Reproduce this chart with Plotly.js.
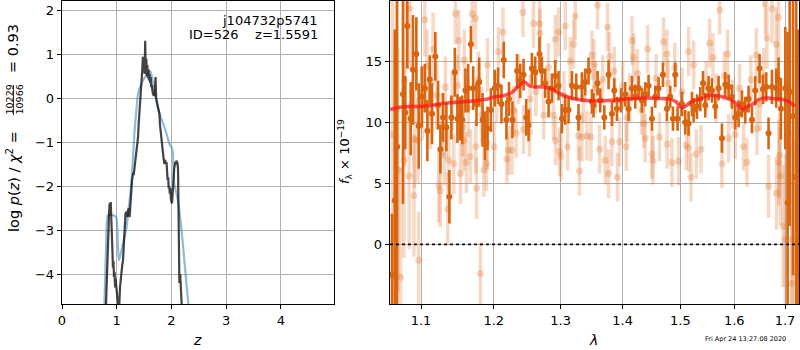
<!DOCTYPE html>
<html>
<head>
<meta charset="utf-8">
<script src="https://cdn.plot.ly/plotly-3.0.1.min.js"></script>
<style>html,body{margin:0;padding:0;background:#fff;}#chart{width:800px;height:350px;}</style>
</head>
<body>
<div id="chart"></div>
<script>
// ---------- Left panel: log p(z) ----------
const zBlue = [0.77,0.80,0.82,0.84,0.88,0.93,0.99,1.02,1.04,1.07,1.115,1.176,1.22,1.267,1.30,1.327,1.36,1.39,1.45,1.52,1.57,1.61,1.65,1.69,1.75,1.81,1.87,1.92,1.96,2.00,2.02,2.05,2.10,2.15,2.20,2.24,2.28,2.31,2.34];
const pBlue = [-4.9,-3.6,-2.8,-2.66,-2.64,-2.66,-2.7,-3.3,-3.68,-3.55,-3.3,-2.96,-2.5,-1.94,-1.3,-0.73,-0.25,0.1,0.33,0.48,0.56,0.62,0.45,0.18,-0.23,-0.45,-0.65,-0.85,-1.03,-1.12,-1.18,-1.94,-2.2,-2.62,-3.2,-3.75,-4.3,-4.68,-5.2];

const zDark = [0.79,0.81,0.83,0.85,0.86,0.87,0.88,0.89,0.90,0.91,0.92,0.93,0.94,0.95,0.96,0.97,0.98,0.99,1.00,1.02,1.04,1.06,1.085,1.10,1.115,1.13,1.145,1.16,1.176,1.19,1.206,1.22,1.236,1.25,1.267,1.28,1.30,1.31,1.327,1.34,1.35,1.37,1.39,1.40,1.42,1.43,1.44,1.455,1.467,1.478,1.49,1.50,1.51,1.52,1.53,1.54,1.55,1.56,1.57,1.58,1.59,1.60,1.61,1.62,1.63,1.64,1.66,1.68,1.70,1.71,1.72,1.74,1.76,1.78,1.79,1.80,1.81,1.82,1.84,1.85,1.86,1.87,1.88,1.90,1.91,1.92,1.93,1.94,1.95,1.96,1.97,1.98,1.99,2.01,2.02,2.03,2.04,2.05,2.07,2.08,2.09,2.11,2.12,2.13,2.145,2.16,2.175,2.19,2.21];
const pDark = [-5.2,-4.6,-3.9,-3.0,-2.6,-2.39,-2.45,-2.36,-2.6,-3.0,-3.4,-3.85,-3.7,-4.06,-3.95,-4.3,-4.1,-4.25,-4.4,-4.55,-4.9,-4.3,-3.9,-3.8,-3.68,-3.2,-2.92,-2.62,-2.58,-2.7,-2.55,-2.5,-2.7,-2.3,-2.1,-1.86,-1.7,-1.75,-1.55,-1.48,-1.25,-1.03,-0.88,-0.6,-0.27,-0.05,0.2,0.45,0.64,0.94,0.6,0.85,0.55,1.3,0.6,0.9,0.5,0.75,0.45,0.65,0.4,0.55,0.35,0.48,0.25,0.3,0.1,0.05,0.2,0.48,0.0,-0.1,-0.2,-0.35,-0.6,-0.75,-0.7,-0.95,-1.2,-1.3,-1.4,-1.5,-1.4,-1.48,-1.45,-1.6,-1.86,-1.8,-2.05,-2.0,-2.17,-2.05,-2.3,-2.39,-2.2,-1.95,-1.86,-1.6,-1.45,-1.5,-1.42,-1.48,-1.6,-3.07,-4.2,-4.0,-4.3,-4.68,-5.3];

// ---------- Right panel: spectrum ----------
const lamDark = [1.0625,1.0660,1.0690,1.0765,1.0795,1.0821,1.0865,1.0895,1.0939,1.0970,1.1010,1.1050,1.1084,1.1116,1.1146,1.1190,1.1227,1.1258,1.1294,1.1339,1.1380,1.1407,1.1454,1.1490,1.1523,1.1555,1.1600,1.1638,1.1676,1.1708,1.1755,1.1793,1.1840,1.1874,1.1911,1.1959,
 1.2014,1.2062,1.2111,1.2144,1.2183,1.2221,1.2271,1.2339,1.2386,1.2435,1.2475,1.2510,1.2560,1.2610,1.2675,1.2711,1.2762,1.2813,1.2865,1.2916,1.2967,1.3020,1.3071,1.3123,1.3176,1.3244,1.3280,1.3334,1.3387,1.3440,1.3495,
 1.3521,1.3586,1.3630,1.3696,1.3766,1.3822,1.3860,1.3905,1.3972,1.4043,1.4099,1.4157,1.4213,1.4269,1.4327,1.4384,1.4441,1.4499,1.4557,1.4614,1.4691,1.4761,1.4820,1.4868,1.4909,1.4950,1.5029,1.5088,1.5148,1.5210,
 1.5240,1.5302,1.5362,1.5412,1.5454,1.5515,1.5578,1.5640,1.5702,1.5765,1.5828,1.5891,1.5955,1.6019,1.6082,1.6147,1.6211,1.6275,1.6341,1.6406,1.6491,1.6558,1.6623,1.6669,1.6737,1.6822,1.6869,1.6917,1.7006,1.7053,1.7095,1.7165,1.7230,1.7265];
const fluxDark = [-2.5,3.6,8.0,12.3,10.8,17.9,10.3,14.3,15.6,9.7,12.1,12.8,9.3,13.5,10.7,15.4,11.4,7.8,10.4,9.6,3.9,10.4,14.1,10.3,10.3,10.2,12.6,12.8,16.4,12.8,11.5,13.3,10.2,8.9,9.5,11.0,
 12.8,13.0,11.5,15.1,10.2,11.9,10.2,14.2,13.4,13.9,10.4,9.75,14.4,14.1,15.6,14.2,13.2,11.7,12.8,13.8,13.0,10.3,11.0,11.0,13.0,12.9,10.4,12.9,13.3,14.2,11.7,
 11.4,13.2,11.8,10.4,13.9,10.7,12.6,11.1,11.8,12.3,11.1,12.8,12.1,12.8,11.8,12.3,13.0,10.3,12.1,12.8,13.9,11.1,12.1,10.3,13.9,10.3,11.5,10.0,9.9,11.5,
 11.0,11.3,11.9,13.2,11.4,12.8,12.6,11.3,12.8,8.7,13.1,12.9,12.1,10.4,10.7,11.5,11.0,11.9,10.2,12.6,14.4,12.7,12.9,9.1,12.9,12.8,13.5,11.1,12.8,3.4,12.5,10.5,5.5,-2.4];
const errDark = [5,14,13,9,3,3.5,3,4.5,3,3.5,2.5,2,2.5,2,2.5,2,2,2,2,2,2.2,1.8,2,2,1.8,2,1.8,2,1.5,1.8,1.8,2,2.2,2,1.8,1.8,
 1.5,1.5,1.6,1.5,1.6,1.4,1.5,1.4,1.4,1.3,1.5,1.3,1.3,1.3,1.4,1.2,1.2,1.3,1.2,1.3,1.2,1.2,1.2,1.1,1.2,1.1,1.1,1.2,1.1,1.1,1.0,
 1.0,1.0,1.0,1.0,1.2,1.0,1.0,1.0,1.0,1.0,1.0,1.0,1.0,1.0,1.0,1.0,0.9,1.0,0.9,0.9,1.0,1.0,0.9,1.0,1.0,1.0,1.0,1.0,1.0,1.0,
 1.0,1.0,1.0,1.0,1.0,1.0,1.0,1.0,1.0,1.2,1.0,1.0,1.0,1.0,1.1,1.1,1.1,1.1,1.1,1.2,1.2,1.2,1.2,1.3,1.4,1.6,1.8,2.5,5,14,11,13,18,20];

const lamLight = [1.0630,1.0680,1.0700,1.0735,1.0778,1.0787,1.0845,1.0852,1.0908,1.0915,1.0960,1.0970,1.1020,1.1050,1.1080,1.1120,1.1160,1.1210,1.1236,1.1257,1.1280,1.1312,1.1325,1.1357,1.1371,1.1420,1.1440,1.1462,1.1490,1.1508,1.1531,1.1560,1.1578,1.1585,1.1614,1.1640,1.1670,1.1694,1.1740,1.1745,1.1755,1.1780,1.1810,1.1830,1.1858,1.1895,1.1905,1.1910,
 1.2006,1.2040,1.2068,1.2132,1.2190,1.2213,1.2263,1.2290,1.2326,1.2360,1.2426,1.2435,1.2524,1.2535,1.2585,1.2620,1.2676,1.2680,1.2737,1.2810,1.2888,1.2916,1.2920,1.2967,1.2982,1.3004,1.3050,1.3071,1.3107,1.3149,1.3201,1.3228,1.3280,1.3296,1.3334,1.3360,1.3414,1.3479,1.3495,
 1.3530,1.3550,1.3586,1.3619,1.3670,1.3712,1.3749,1.3766,1.3782,1.3822,1.3860,1.3914,1.3948,1.4000,1.4060,1.4072,1.4120,1.4157,1.4184,1.4250,1.4320,1.4355,1.4384,1.4424,1.4499,1.4517,1.4570,1.4632,1.4702,1.4761,1.4765,1.4780,1.4850,1.4900,1.4968,1.5030,1.5105,1.5148,1.5152,1.5193,
 1.5240,1.5289,1.5375,1.5470,1.5534,1.5597,1.5660,1.5721,1.5765,1.5810,1.5871,1.5891,1.5970,1.6019,1.6100,1.6179,1.6243,1.6320,1.6426,1.6440,1.6500,1.6570,1.6603,1.6636,1.6669,1.6737,1.6822,1.6826,1.6869,1.6873,1.6890,1.6904,1.6960,1.7006,1.7140,1.7145,1.7210];
const fluxLight = [9.0,11.0,6.1,-2.7,6.9,13.4,5.6,19.3,4.0,8.6,8.5,-1.3,11.5,18.4,14.6,10.8,16.0,12.2,4.8,4.4,9.8,7.3,12.9,2.9,6.9,11.8,6.6,18.9,13.0,16.7,5.8,9.6,8.5,15.1,6.7,11.2,7.2,18.9,18.5,8.0,4.6,13.5,-2.4,10.6,6.1,6.6,8.3,14.7,
 8.0,12.0,15.8,17.4,7.0,7.7,7.7,11.0,9.1,13.5,19.0,9.4,9.2,11.9,18.1,12.5,18.1,17.3,10.6,14.5,10.6,16.8,8.5,17.4,7.6,7.2,12.2,17.9,8.0,15.0,16.4,18.7,8.9,6.0,8.8,12.0,8.9,8.8,15.5,
 14.8,12.8,19.6,7.8,13.5,6.9,17.8,5.8,15.4,8.4,14.2,5.5,8.4,13.0,8.0,10.4,12.0,16.7,15.3,14.0,11.0,9.9,8.7,16.0,7.4,6.9,13.6,8.8,16.6,15.6,8.2,13.2,6.7,14.5,6.8,12.5,8.1,15.8,7.9,5.5,
 14.7,7.4,7.8,13.0,16.5,15.3,12.0,19.2,6.6,13.8,15.6,8.7,11.5,9.0,12.8,8.0,6.7,13.5,15.5,9.5,11.5,13.8,19.7,16.9,4.75,19.3,16.4,4.2,18.6,6.7,7.3,5.6,1.5,0.4,-3.2,0.4,-2.4];
const errLight = [12,10,10,9,8,7,6,5,5,4,3.5,4,3,3,3,3,3,2.8,3,3,2.6,2.5,2.5,3,2.5,2.5,2.5,2.5,2.5,2.5,2.5,2.4,2.5,2.5,2.5,2.4,2.2,2.5,2.5,2.2,2.5,2.3,2.6,2.3,2.2,2.2,2.2,2.2,
 2,2,2,2,2,2,2,2,2,2,2,2,2,2,2,2,2,2,2,2,2,2,2,2,2,2,2,2,2,2,2,2,2,2,2,2,2,2,2,
 2,2,2,2,2,2,2,2,2,2,2,2,2,2,2,2,2,2,2,2,2,2,2,2,2,2,2,2,2,2,2,2,2,2,2,2,2,2,2,2,
 2,2,2,2,2,2,2,2,2,2,2,2,2,2,2,2,2,2,2.2,2.2,2.2,2.3,2.5,2.5,2.6,2.8,3,3,3.5,3.5,3.5,4,5,7,9,9,11];

const lamModel = [1.0600,1.0750,1.0900,1.1000,1.1150,1.1300,1.1500,1.1700,1.1900,1.2000,1.2150,1.2250,1.2350,1.2450,1.2520,1.2600,1.2700,1.2830,1.2950,1.3050,1.3200,1.3400,1.3600,1.3800,1.4000,1.4200,1.4400,1.4600,1.4800,1.4920,1.5020,1.5100,1.5200,1.5350,1.5500,1.5650,1.5800,1.5950,1.6070,1.6150,1.6250,1.6350,1.6450,1.6600,1.6750,1.6900,1.7050,1.7200];
const fluxModel = [11.05,11.25,11.3,11.3,11.4,11.55,11.65,11.75,11.9,12.07,12.2,12.4,12.9,13.3,13.0,12.9,12.9,12.8,12.45,12.2,11.95,11.78,11.75,11.8,11.9,11.95,12.0,11.95,11.9,11.7,11.2,11.35,11.7,11.9,12.2,12.2,12.05,11.8,11.4,11.1,11.3,11.45,11.8,12.0,11.95,11.9,11.75,11.3];

const zTicks = [0,1,2,3,4];
const pTicks = [-4,-3,-2,-1,0,1,2];
const lamTicks = [1.1,1.2,1.3,1.4,1.5,1.6,1.7];
const lamTickText = ['1.1','1.2','1.3','1.4','1.5','1.6','1.7'];
const fTicks = [0,5,10,15];

// ---------- helpers ----------
const W = 800, H = 350;
const px = v => v / W;
const py = v => 1 - v / H;
const FONT = 'DejaVu Sans, Liberation Sans, sans-serif';
const ORANGE = '#d8650f';

const traces = [
  {x: zBlue, y: pBlue, xaxis: 'x', yaxis: 'y', mode: 'lines', line: {color: 'rgba(31,119,180,0.5)', width: 2.2, shape: 'spline', smoothing: 0.6}, hoverinfo: 'skip'},
  {x: zDark, y: pDark, xaxis: 'x', yaxis: 'y', mode: 'lines', line: {color: 'rgba(20,20,20,0.8)', width: 2.2}, hoverinfo: 'skip'},
  {x: lamLight, y: fluxLight, xaxis: 'x2', yaxis: 'y2', mode: 'markers', type: 'scatter',
   marker: {color: 'rgba(220,100,20,0.25)', size: 7},
   error_y: {type: 'data', array: errLight, visible: true, color: 'rgba(220,100,20,0.25)', thickness: 3.5, width: 0}, hoverinfo: 'skip'},
  {x: lamDark, y: fluxDark, xaxis: 'x2', yaxis: 'y2', mode: 'markers', type: 'scatter',
   marker: {color: ORANGE, size: 6},
   error_y: {type: 'data', array: errDark, visible: true, color: ORANGE, thickness: 2.6, width: 0}, hoverinfo: 'skip'},
  {x: [1.03, 1.76], y: [0, 0], xaxis: 'x2', yaxis: 'y2', mode: 'lines', line: {color: '#111', width: 1.6, dash: 'dot'}, hoverinfo: 'skip'},
  {x: lamModel, y: fluxModel, xaxis: 'x2', yaxis: 'y2', mode: 'lines', line: {color: 'rgba(255,20,20,0.72)', width: 3.5, shape: 'spline'}, hoverinfo: 'skip'}
];

const axisCommon = {
  showline: true, linecolor: '#000', linewidth: 1.3, mirror: true,
  ticks: 'outside', ticklen: 4, tickwidth: 1, tickcolor: '#000',
  showgrid: true, gridcolor: '#b0b0b0', gridwidth: 1, zeroline: false,
  tickfont: {family: FONT, size: 13, color: '#000'}, fixedrange: true
};
const yDom = [1 - 304 / H, 1 - 1 / H];

const layout = {
  width: W, height: H,
  margin: {l: 0, r: 0, t: 0, b: 0, pad: 0},
  paper_bgcolor: '#fff', plot_bgcolor: '#fff',
  showlegend: false,
  font: {family: FONT, color: '#000'},
  xaxis: Object.assign({}, axisCommon, {domain: [62 / W, 334 / W], range: [0, 4.97], tickmode: 'array', tickvals: zTicks, anchor: 'y'}),
  yaxis: Object.assign({}, axisCommon, {domain: yDom, range: [-4.675, 2.205], tickmode: 'array', tickvals: pTicks, anchor: 'x'}),
  xaxis2: Object.assign({}, axisCommon, {domain: [390 / W, 799.3 / W], type: 'log', range: [0.025292, 0.237876], tickmode: 'array', tickvals: lamTicks, ticktext: lamTickText, anchor: 'y2'}),
  yaxis2: Object.assign({}, axisCommon, {domain: yDom, range: [-4.89, 19.94], tickmode: 'array', tickvals: fTicks, anchor: 'x2'}),
  shapes: [
    {type: 'line', xref: 'paper', yref: 'paper', x0: px(13.5), x1: px(13.5), y0: py(85), y1: py(115), line: {color: '#000', width: 0.8}}
  ],
  annotations: [
    {xref: 'paper', yref: 'paper', x: px(320), y: py(20), xanchor: 'right', yanchor: 'middle', showarrow: false, text: 'j104732p5741', font: {size: 13, family: FONT}},
    {xref: 'paper', yref: 'paper', x: px(320), y: py(35), xanchor: 'right', yanchor: 'middle', showarrow: false, text: 'ID=526\u00a0\u00a0\u00a0\u00a0z=1.5591', font: {size: 13, family: FONT}},
    {xref: 'paper', yref: 'paper', x: px(197), y: py(340), xanchor: 'center', yanchor: 'middle', showarrow: false, text: '<i>z</i>', font: {size: 14, family: FONT}},
    {xref: 'paper', yref: 'paper', x: px(593), y: py(340), xanchor: 'center', yanchor: 'middle', showarrow: false, text: '<i>λ</i>', font: {size: 14, family: FONT}},
    {xref: 'paper', yref: 'paper', x: px(13), y: py(182), xanchor: 'center', yanchor: 'middle', textangle: -90, showarrow: false, text: 'log <i>p</i>(<i>z</i>) / <i>χ</i><sup>2</sup>\u00a0=', font: {size: 14.5, family: FONT}},
    {xref: 'paper', yref: 'paper', x: px(8.5), y: py(100), xanchor: 'center', yanchor: 'middle', textangle: -90, showarrow: false, text: '10229', font: {size: 9.5, family: FONT}},
    {xref: 'paper', yref: 'paper', x: px(18.5), y: py(100), xanchor: 'center', yanchor: 'middle', textangle: -90, showarrow: false, text: '10966', font: {size: 9.5, family: FONT}},
    {xref: 'paper', yref: 'paper', x: px(13), y: py(49), xanchor: 'center', yanchor: 'middle', textangle: -90, showarrow: false, text: '=\u00a00.93', font: {size: 14.5, family: FONT}},
    {xref: 'paper', yref: 'paper', x: px(345), y: py(152), xanchor: 'center', yanchor: 'middle', textangle: -90, showarrow: false, text: '<i>f</i><sub>λ</sub> × 10<sup>−19</sup>', font: {size: 13, family: FONT}},
    {xref: 'paper', yref: 'paper', x: px(745), y: py(339), xanchor: 'center', yanchor: 'middle', showarrow: false, text: 'Fri Apr 24 13:27:08 2020', font: {size: 6.5, family: FONT}}
  ]
};

Plotly.newPlot('chart', traces, layout, {displayModeBar: false, staticPlot: true});
</script>
</body>
</html>
